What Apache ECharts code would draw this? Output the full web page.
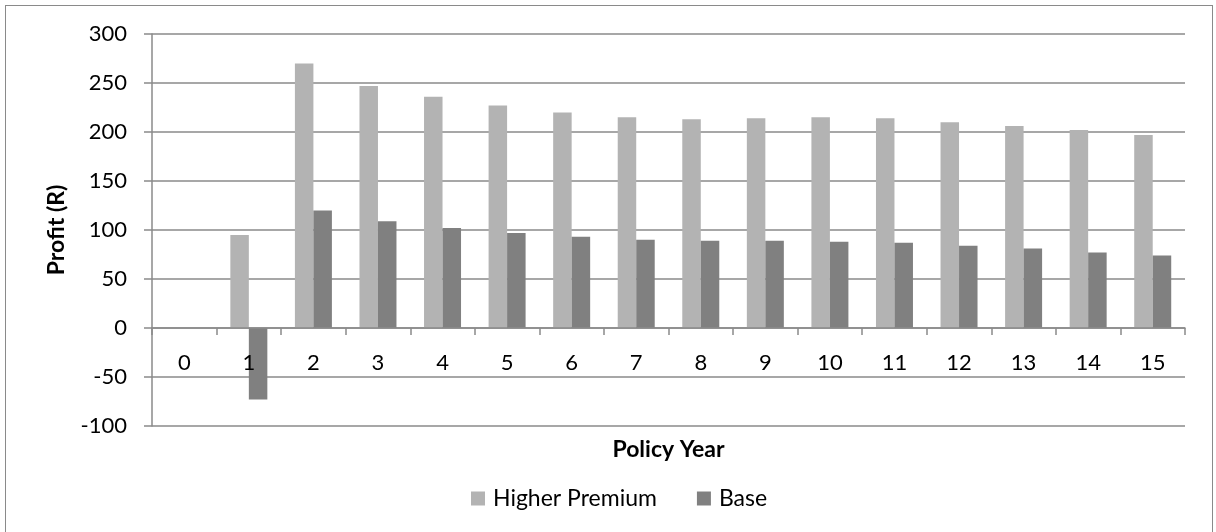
<!DOCTYPE html>
<html>
<head>
<meta charset="utf-8">
<script src="https://cdn.jsdelivr.net/npm/echarts@6/dist/echarts.min.js"></script>
<style>
html,body{margin:0;padding:0;background:#fff;}
#frame{position:absolute;left:5px;top:5px;width:1208px;height:540px;border:1.5px solid #8a8a8a;box-sizing:border-box;}
#chart{position:absolute;left:0;top:0;width:1216px;height:532px;}
</style>
</head>
<body>
<div id="frame"></div>
<div id="chart"></div>
<script>
const years = ['0','1','2','3','4','5','6','7','8','9','10','11','12','13','14','15'];
const higherPremium = [0, 95, 270, 247, 236, 227, 220, 215, 213, 214, 215, 214, 210, 206, 202, 197];
const base = [0, -73, 120, 109, 102, 97, 93, 90, 89, 89, 88, 87, 84, 81, 77, 74];
const yTicks = {min: -100, max: 300, interval: 50};

const FONT = 'Lato';
const GRID_TOP = 34, GRID_BOTTOM = 106, H = 532;
const plotH = H - GRID_TOP - GRID_BOTTOM;
// distance from the bottom edge of the plot (min) up to the zero line
const zeroOffset = plotH * (0 - yTicks.min) / (yTicks.max - yTicks.min);

const chart = echarts.init(document.getElementById('chart'), null, {renderer: 'canvas'});
chart.setOption({
  animation: false,
  textStyle: {fontFamily: FONT},
  grid: {left: 152, right: 31, top: GRID_TOP, bottom: GRID_BOTTOM, outerBoundsMode: 'none', containLabel: false},
  legend: {
    left: 466, top: 482,
    icon: 'rect', itemWidth: 14, itemHeight: 14, itemGap: 40,
    textStyle: {fontFamily: FONT, fontSize: 23, color: '#000', padding: [0, 0, 0, 3]},
    data: ['Higher Premium', 'Base']
  },
  xAxis: {
    type: 'category',
    data: years,
    offset: -zeroOffset,
    z: 5,
    name: 'Policy Year',
    nameLocation: 'middle',
    nameGap: 110,
    nameTextStyle: {fontFamily: FONT, fontSize: 23, fontWeight: 'bold', color: '#000'},
    axisLine: {onZero: false, lineStyle: {color: '#8a8a8a', width: 1.5}},
    axisTick: {show: true, length: 7, lineStyle: {color: '#8a8a8a', width: 1.5}},
    axisLabel: {fontFamily: FONT, fontSize: 22, color: '#000', margin: 24},
    splitLine: {show: false}
  },
  yAxis: {
    type: 'value',
    min: yTicks.min, max: yTicks.max, interval: yTicks.interval,
    name: 'Profit (R)',
    nameLocation: 'middle',
    nameRotate: 90,
    nameGap: 84,
    nameTextStyle: {fontFamily: FONT, fontSize: 23, fontWeight: 'bold', color: '#000'},
    axisLine: {show: true, lineStyle: {color: '#8a8a8a', width: 1.5}},
    axisTick: {show: true, length: 8, lineStyle: {color: '#8a8a8a', width: 1.5}},
    axisLabel: {fontFamily: FONT, fontSize: 22, color: '#000', margin: 25},
    splitLine: {show: true, lineStyle: {color: '#8a8a8a', width: 1.5}}
  },
  series: [
    {name: 'Higher Premium', type: 'bar', data: higherPremium, barWidth: 18.5, barGap: '0%',
     itemStyle: {color: '#b3b3b3'}},
    {name: 'Base', type: 'bar', data: base, barWidth: 18.5, barGap: '0%',
     itemStyle: {color: '#808080'}}
  ]
});
</script>
</body>
</html>
